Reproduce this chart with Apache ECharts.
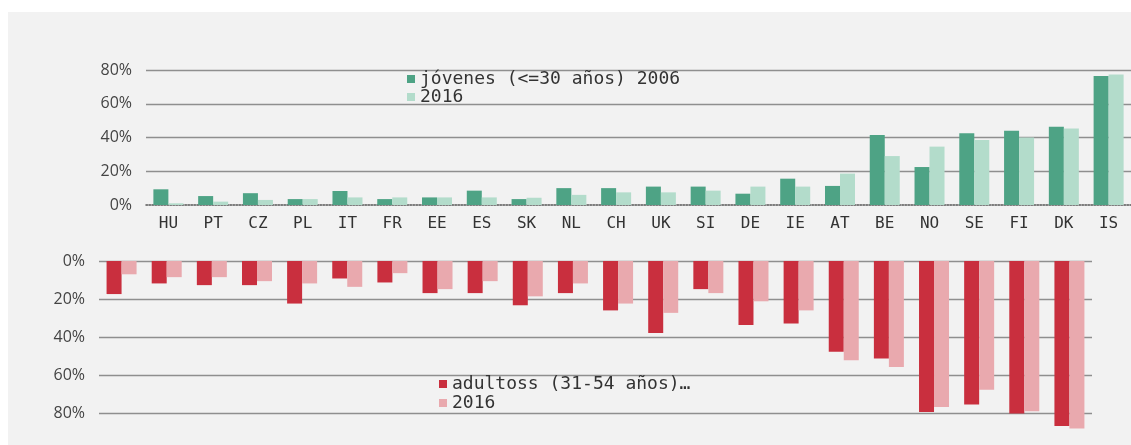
<!DOCTYPE html>
<html>
<head>
<meta charset="utf-8">
<script src="https://cdn.jsdelivr.net/npm/echarts@6/dist/echarts.min.js"></script>
<style>
    html, body { margin: 0; padding: 0; background: #fff; }
    #main { width: 1131px; height: 445px; }
</style>
</head>
<body>
<div id="main"></div>
<script>
// datos (%)
var countries = ['HU', 'PT', 'CZ', 'PL', 'IT', 'FR', 'EE', 'ES', 'SK', 'NL', 'CH', 'UK', 'SI', 'DE', 'IE', 'AT', 'BE', 'NO', 'SE', 'FI', 'DK', 'IS'];
var young2006 = [9.3, 5.3, 7, 3.5, 8.3, 3.5, 4.5, 8.5, 3.5, 10, 10, 10.9, 10.9, 6.7, 15.6, 11.3, 41.5, 22.5, 42.5, 44, 46.4, 76.5];
var young2016 = [1, 2, 3, 3.5, 4.5, 4.5, 4.5, 4.5, 4.3, 6, 7.5, 7.5, 8.5, 10.9, 10.9, 18.6, 29, 34.6, 38.5, 40, 45.4, 77.3];
var adult2006 = [17.4, 11.8, 12.7, 12.7, 22.4, 9.2, 11.3, 16.9, 16.9, 23.3, 16.9, 26, 37.9, 14.8, 33.7, 32.9, 47.7, 51.3, 79.5, 75.5, 80.3, 86.8];
var adult2016 = [7, 8.5, 8.5, 10.6, 11.8, 13.6, 6.4, 14.8, 10.6, 18.6, 11.8, 22.4, 27.3, 16.9, 21.2, 26, 52.2, 55.8, 76.9, 67.7, 79.1, 88.2];
var pctTicks = ['0%', '20%', '40%', '60%', '80%'];

var myChart = echarts.init(document.getElementById('main'));

var gridLine = { show: true, lineStyle: { color: '#8f8f8f', width: 1.3 } };
var yLabel = {
    fontFamily: 'Open Sans', fontSize: 16, color: '#444', margin: 14,
    formatter: function (v) { return pctTicks[v / 20]; }
};
var legendText = { fontFamily: 'DejaVu Sans Mono', fontSize: 18, color: '#333', lineHeight: 17 };

var option = {
    animation: false,
    backgroundColor: '#fff',
    graphic: [{
        type: 'rect', z: -10, silent: true,
        shape: { x: 8, y: 12, width: 1131, height: 445 },
        style: { fill: '#f2f2f2' }
    }],
    grid: [
        { left: 146, top: 70, width: 996, height: 135 },
        { left: 99, top: 261, width: 993, height: 152 }
    ],
    legend: [{
        orient: 'vertical', left: 402, top: 65, itemGap: 0,
        itemWidth: 8, itemHeight: 8, icon: 'rect',
        data: ['jóvenes (<=30 años) 2006', 'j2016'],
        formatter: function (n) { return n == 'j2016' ? '2016' : n; },
        textStyle: legendText
    }, {
        orient: 'vertical', left: 434, top: 370, itemGap: 1,
        itemWidth: 8, itemHeight: 8, icon: 'rect',
        data: ['adultoss (31-54 años)…', 'a2016'],
        formatter: function (n) { return n == 'a2016' ? '2016' : n; },
        textStyle: legendText
    }],
    xAxis: [{
        type: 'category', gridIndex: 0, data: countries,
        axisTick: { show: false },
        axisLine: { lineStyle: { color: '#555', type: 'dotted', width: 1.5 } },
        axisLabel: { fontFamily: 'DejaVu Sans Mono', fontSize: 16, color: '#333', margin: 11 }
    }, {
        type: 'category', gridIndex: 1, data: countries,
        axisTick: { show: false },
        axisLine: { show: false },
        axisLabel: { show: false }
    }],
    yAxis: [{
        type: 'value', gridIndex: 0, min: 0, max: 80, interval: 20,
        axisLine: { show: false }, axisTick: { show: false },
        splitLine: { show: true, showMinLine: false, lineStyle: { color: '#8f8f8f', width: 1.3 } },
        axisLabel: yLabel
    }, {
        type: 'value', gridIndex: 1, min: 0, max: 80, interval: 20, inverse: true,
        axisLine: { show: false }, axisTick: { show: false },
        splitLine: gridLine,
        axisLabel: yLabel
    }],
    series: [{
        name: 'jóvenes (<=30 años) 2006', type: 'bar', xAxisIndex: 0, yAxisIndex: 0,
        barWidth: 15, barGap: '0%', itemStyle: { color: '#4ea385' }, data: young2006
    }, {
        name: 'j2016', type: 'bar', xAxisIndex: 0, yAxisIndex: 0,
        barWidth: 15, barGap: '0%', itemStyle: { color: '#b3dccb' }, data: young2016
    }, {
        name: 'adultoss (31-54 años)…', type: 'bar', xAxisIndex: 1, yAxisIndex: 1,
        barWidth: 15, barGap: '0%', clip: false, itemStyle: { color: '#c92f3e' }, data: adult2006
    }, {
        name: 'a2016', type: 'bar', xAxisIndex: 1, yAxisIndex: 1,
        barWidth: 15, barGap: '0%', clip: false, itemStyle: { color: '#e9a9ae' }, data: adult2016
    }]
};

myChart.setOption(option);
</script>
</body>
</html>
